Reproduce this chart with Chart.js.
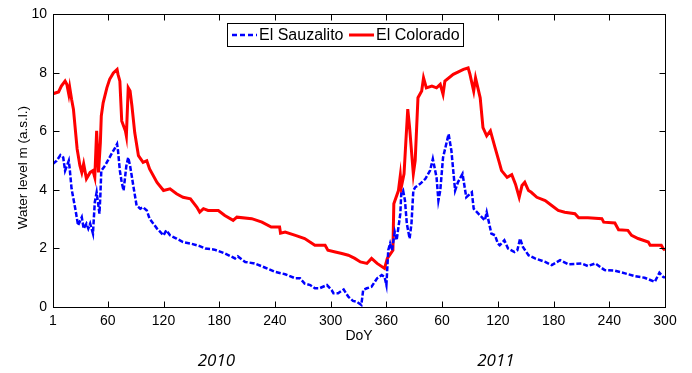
<!DOCTYPE html>
<html><head><meta charset="utf-8">
<script src="https://cdn.jsdelivr.net/npm/chart.js@4.4.1/dist/chart.umd.min.js"></script>
<style>html,body{margin:0;padding:0;background:#fff;overflow:hidden}#wrap{width:692px;height:373px;position:relative}</style>
</head><body><div id="wrap"><canvas id="c" width="692" height="373"></canvas></div>
<script>
const FONT = '"Liberation Sans", Arial, sans-serif';

const xTickValues = [1, 60, 120, 180, 240, 300, 360, 420, 480, 540, 600, 660];
const xTickLabels = ['1', '60', '120', '180', '240', '300', '360', '60', '120', '180', '240', '300'];
const yTickValues = [0, 2, 4, 6, 8, 10];
const yearLabels = ['2010', '2011'];
const seriesNames = ['El Sauzalito', 'El Colorado'];
const xTitle = 'DoY';
const yTitle = 'Water level m (a.s.l.)';

const sauzalitoDays = [1,5,9,12,14,16,18,19,21,25,28,32,34,37,39,41,44,46,48,51,52,53,57,60,64,68,70,71,73,75,77,80,82,84,88,91,95,98,102,105,113,120,123,127,134,141,149,156,159,165,175,186,197,200,208,218,229,240,251,262,267,272,278,283,288,296,301,303,308,314,319,324,328,333,335,339,344,350,355,358,360,362,364,366,369,371,375,376,378,380,382,385,387,389,391,396,402,407,410,414,416,418,421,427,430,434,437,442,446,452,454,459,466,468,473,477,480,482,487,491,498,501,504,507,513,520,531,538,547,556,570,577,585,595,606,617,628,638,649,654,658,660];
const sauzalitoLevels = [4.89,5.0,5.19,5.11,4.66,4.83,5.0,4.72,4.04,3.36,2.79,3.07,2.68,2.85,2.68,2.85,2.51,3.58,3.92,3.19,3.81,4.66,4.83,5.0,5.23,5.45,5.57,5.34,4.66,4.26,3.98,4.83,5.11,4.83,4.04,3.47,3.36,3.41,3.3,3.02,2.68,2.45,2.62,2.45,2.34,2.22,2.17,2.11,2.08,2.0,1.96,1.83,1.66,1.73,1.54,1.49,1.35,1.2,1.12,0.98,0.98,0.8,0.75,0.64,0.64,0.75,0.58,0.47,0.47,0.6,0.35,0.21,0.18,0.07,0.58,0.64,0.69,0.98,1.09,1.03,0.75,1.94,2.17,1.94,2.56,2.28,3.19,3.87,3.98,3.64,2.85,2.34,2.85,3.98,4.09,4.2,4.38,4.66,5.06,4.43,3.64,3.98,5.11,5.91,5.34,3.98,4.26,4.55,3.75,3.92,3.36,3.19,2.96,3.24,2.51,2.45,2.17,2.11,2.28,2.0,1.88,1.94,2.34,2.05,1.77,1.66,1.54,1.43,1.6,1.46,1.49,1.4,1.49,1.26,1.24,1.15,1.05,1.0,0.86,1.17,1.03,1.0];

const coloradoDays = [1,7,10,14,16,18,19,21,23,25,27,30,32,34,37,41,44,46,48,50,52,53,55,59,62,66,70,71,73,75,79,80,82,84,86,89,93,98,102,105,113,120,127,134,141,149,156,159,163,168,179,186,195,199,215,226,236,245,246,251,262,272,283,294,297,305,312,319,326,332,339,344,350,358,361,367,368,373,375,376,379,381,383,385,389,391,394,398,400,403,409,414,418,421,423,432,443,448,450,454,456,461,464,468,472,477,481,484,490,495,499,503,506,509,513,516,522,531,538,545,552,563,567,577,592,594,606,610,620,624,631,642,644,656,658,660];
const coloradoLevels = [7.29,7.35,7.55,7.72,7.6,7.27,7.5,7.1,6.76,6.08,5.4,4.83,4.6,4.89,4.38,4.6,4.66,4.43,6.02,4.6,5.62,6.53,6.98,7.49,7.78,8.0,8.12,7.95,7.72,6.36,6.02,5.85,7.49,7.38,6.87,5.96,5.17,4.94,5.0,4.72,4.26,3.98,4.04,3.87,3.75,3.7,3.41,3.24,3.36,3.3,3.3,3.13,2.96,3.07,3.02,2.9,2.73,2.73,2.52,2.56,2.45,2.34,2.11,2.11,1.94,1.88,1.83,1.77,1.66,1.54,1.49,1.66,1.49,1.32,1.66,1.94,3.53,3.98,4.49,4.09,4.55,5.68,6.76,6.13,4.55,5.0,7.15,7.38,7.83,7.49,7.55,7.49,7.61,7.27,7.72,7.95,8.12,8.17,7.95,7.38,7.83,7.15,6.13,5.85,6.02,5.45,5.0,4.66,4.43,4.52,4.2,3.75,4.15,4.26,3.98,3.92,3.75,3.64,3.47,3.3,3.24,3.19,3.05,3.05,3.02,2.9,2.87,2.64,2.62,2.45,2.34,2.22,2.11,2.11,2.0,1.94];

const toPoints = (xs, ys) => xs.map((d, i) => ({x: d, y: ys[i]}));

const decor = {
  id: 'decor',
  afterDraw(chart) {
    const {ctx, chartArea: a, scales: {x, y}} = chart;
    ctx.save();
    ctx.strokeStyle = '#000';
    ctx.lineWidth = 1;
    const L = Math.round(a.left) + 0.5, R = Math.round(a.right) + 0.5;
    const T = Math.round(a.top) + 0.5, B = Math.round(a.bottom) + 0.5;
    ctx.strokeRect(L, T, R - L, B - T);
    const tl = 6;
    ctx.beginPath();
    x.ticks.forEach(t => {
      const px = Math.round(x.getPixelForValue(t.value)) + 0.5;
      ctx.moveTo(px, B); ctx.lineTo(px, B - tl);
      ctx.moveTo(px, T); ctx.lineTo(px, T + tl);
    });
    y.ticks.forEach(t => {
      const py = Math.round(y.getPixelForValue(t.value)) + 0.5;
      ctx.moveTo(L, py); ctx.lineTo(L + tl, py);
      ctx.moveTo(R, py); ctx.lineTo(R - tl, py);
    });
    ctx.stroke();

    // axis titles
    ctx.fillStyle = '#000';
    ctx.textAlign = 'center';
    ctx.textBaseline = 'middle';
    ctx.font = '14px ' + FONT;
    ctx.fillText(xTitle, (a.left + a.right) / 2, 336);
    ctx.save();
    ctx.translate(23, (a.top + a.bottom) / 2 + 7);
    ctx.rotate(-Math.PI / 2);
    ctx.font = '13.5px ' + FONT;
    ctx.fillText(yTitle, 0, 0);
    ctx.restore();

    // year labels
    ctx.font = 'italic 17px "Open Sans", "Liberation Sans", sans-serif';
    ctx.fillText(yearLabels[0], x.getPixelForValue(177), 361);
    ctx.fillText(yearLabels[1], x.getPixelForValue(478), 361);

    // legend
    const bx = 227.5, by = 23.5, bw = 236, bh = 23;
    ctx.fillStyle = '#fff';
    ctx.fillRect(bx, by, bw, bh);
    ctx.strokeStyle = '#000';
    ctx.lineWidth = 1;
    ctx.strokeRect(bx, by, bw, bh);
    const ly = 35;
    const ds = chart.data.datasets;
    ctx.lineWidth = 2.5;
    ctx.strokeStyle = ds[0].borderColor;
    ctx.setLineDash([5, 3]);
    ctx.beginPath(); ctx.moveTo(232, ly); ctx.lineTo(257, ly); ctx.stroke();
    ctx.setLineDash([]);
    ctx.lineWidth = 3;
    ctx.strokeStyle = ds[1].borderColor;
    ctx.beginPath(); ctx.moveTo(349, ly); ctx.lineTo(374, ly); ctx.stroke();
    ctx.fillStyle = '#000';
    ctx.font = '16px ' + FONT;
    ctx.textAlign = 'left';
    ctx.fillText(ds[0].label, 259, ly + 1);
    ctx.fillText(ds[1].label, 376, ly + 1);
    ctx.restore();
  }
};

new Chart(document.getElementById('c'), {
  type: 'line',
  data: {
    datasets: [
      {label: seriesNames[0], data: toPoints(sauzalitoDays, sauzalitoLevels), borderColor: '#0000ff', borderWidth: 2.5, borderDash: [5, 2], pointRadius: 0, tension: 0, fill: false},
      {label: seriesNames[1], data: toPoints(coloradoDays, coloradoLevels), borderColor: '#ff0000', borderWidth: 3, pointRadius: 0, tension: 0, fill: false}
    ]
  },
  options: {
    responsive: false,
    animation: false,
    devicePixelRatio: 1,
    layout: {padding: {top: 13, right: 27, left: 0, bottom: 0}},
    plugins: {legend: {display: false}, tooltip: {enabled: false}},
    scales: {
      x: {
        type: 'linear', min: 1, max: 660,
        afterBuildTicks: s => { s.ticks = xTickValues.map(v => ({value: v})); },
        afterFit: s => { s.height = 66; },
        ticks: {
          autoSkip: false, maxRotation: 0, padding: 6, color: '#000',
          font: {family: FONT, size: 14},
          callback: (v) => xTickLabels[xTickValues.indexOf(v)]
        },
        grid: {display: false, drawTicks: false},
        border: {display: false}
      },
      y: {
        min: 0, max: 10,
        afterBuildTicks: s => { s.ticks = yTickValues.map(v => ({value: v})); },
        afterFit: s => { s.width = 53; },
        ticks: {padding: 6, color: '#000', font: {family: FONT, size: 14}},
        grid: {display: false, drawTicks: false},
        border: {display: false}
      }
    }
  },
  plugins: [decor]
});
</script></body></html>
